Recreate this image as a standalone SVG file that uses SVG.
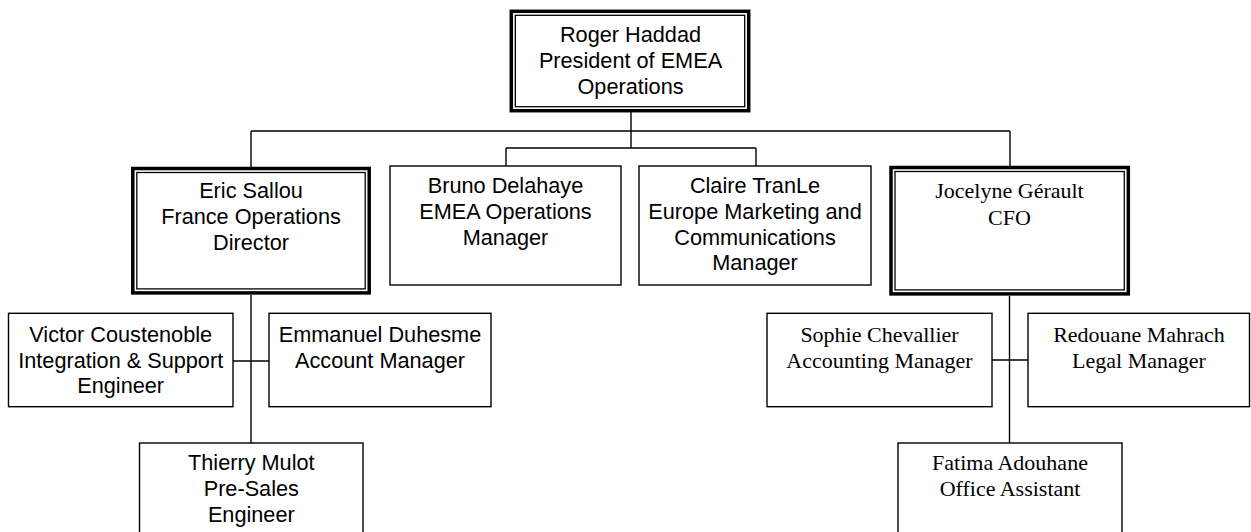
<svg xmlns="http://www.w3.org/2000/svg" width="1251" height="532" viewBox="0 0 1251 532">
<style>
.bg{fill:#fff}
.box{fill:#fff;stroke:#000;stroke-width:1.4}
.dbl-o{fill:#fff;stroke:#000;stroke-width:3.5}
.dbl-i{fill:none;stroke:#000;stroke-width:1.3}
.con{fill:none;stroke:#000;stroke-width:1.4}
.sans{font-family:"Liberation Sans",Arial,sans-serif;font-size:21.7px;fill:#000;text-anchor:middle}
.serif{font-family:"Liberation Serif","Times New Roman",serif;font-size:22px;fill:#000;text-anchor:middle}
</style>
<rect class="bg" x="0" y="0" width="1251" height="532"/>
<g id="connectors">
<path class="con" d="M631,112 V131 M251,131 H1010 M251,131 V167 M1010,131 V166 M631,131 V148 M506,148 H756 M506,148 V166 M756,148 V166"/>
<path class="con" d="M251,295 V443 M233,361 H269"/>
<path class="con" d="M1009.5,296 V443 M992,360 H1028"/>
</g>
<g id="roger">
<rect class="dbl-o" x="511.3" y="11.3" width="237.4" height="99.4"/>
<rect class="dbl-i" x="515.3" y="15.3" width="229.4" height="91.4"/>
<text class="sans" x="630.5" y="41.5">Roger Haddad<tspan x="630.5" dy="26">President of EMEA</tspan><tspan x="630.5" dy="26">Operations</tspan></text>
</g>
<g id="eric">
<rect class="dbl-o" x="132.8" y="168.5" width="236.4" height="124.4"/>
<rect class="dbl-i" x="136.8" y="172.5" width="228.4" height="116.4"/>
<text class="sans" x="251" y="198">Eric Sallou<tspan x="251" dy="26">France Operations</tspan><tspan x="251" dy="26">Director</tspan></text>
</g>
<g id="bruno">
<rect class="box" x="390" y="166" width="231" height="119"/>
<text class="sans" x="505.5" y="193">Bruno Delahaye<tspan x="505.5" dy="25.8">EMEA Operations</tspan><tspan x="505.5" dy="25.8">Manager</tspan></text>
</g>
<g id="claire">
<rect class="box" x="639" y="166" width="232" height="119"/>
<text class="sans" x="755" y="193">Claire TranLe<tspan x="755" dy="25.8">Europe Marketing and</tspan><tspan x="755" dy="25.8">Communications</tspan><tspan x="755" dy="25.8">Manager</tspan></text>
</g>
<g id="jocelyne">
<rect class="dbl-o" x="891" y="167.5" width="237.3" height="126.4"/>
<rect class="dbl-i" x="895" y="171.5" width="229.3" height="118.4"/>
<text class="serif" x="1009.5" y="198.3">Jocelyne Gérault<tspan x="1009.5" dy="26.7">CFO</tspan></text>
</g>
<g id="victor">
<rect class="box" x="8.5" y="313.3" width="224.5" height="93.4"/>
<text class="sans" x="120.7" y="341.7">Victor Coustenoble<tspan x="120.7" dy="25.8">Integration &amp; Support</tspan><tspan x="120.7" dy="25.8">Engineer</tspan></text>
</g>
<g id="emmanuel">
<rect class="box" x="269" y="313.3" width="222" height="93.4"/>
<text class="sans" x="380" y="341.7">Emmanuel Duhesme<tspan x="380" dy="25.8">Account Manager</tspan></text>
</g>
<g id="thierry">
<rect class="box" x="139.5" y="443" width="223.5" height="100"/>
<text class="sans" x="251.3" y="470">Thierry Mulot<tspan x="251.3" dy="25.8">Pre-Sales</tspan><tspan x="251.3" dy="25.8">Engineer</tspan></text>
</g>
<g id="sophie">
<rect class="box" x="767" y="313.3" width="225" height="93.4"/>
<text class="serif" x="879.5" y="341.7">Sophie Chevallier<tspan x="879.5" dy="26.5">Accounting Manager</tspan></text>
</g>
<g id="redouane">
<rect class="box" x="1028" y="313.3" width="221.5" height="93.4"/>
<text class="serif" x="1139" y="341.7">Redouane Mahrach<tspan x="1139" dy="26.5">Legal Manager</tspan></text>
</g>
<g id="fatima">
<rect class="box" x="898" y="443" width="224" height="100"/>
<text class="serif" x="1010" y="470">Fatima Adouhane<tspan x="1010" dy="26">Office Assistant</tspan></text>
</g>
</svg>
